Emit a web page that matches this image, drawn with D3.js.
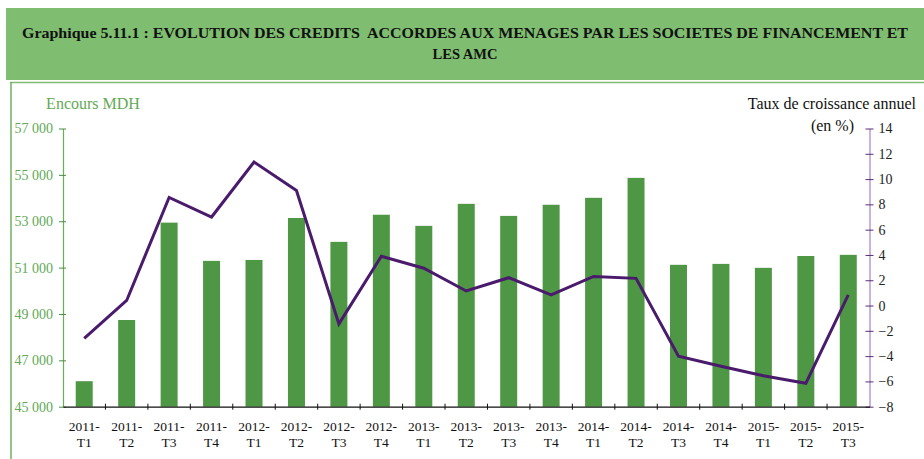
<!DOCTYPE html>
<html>
<head>
<meta charset="utf-8">
<script src="https://cdn.jsdelivr.net/npm/d3@7"></script>
<style>
  html, body { margin: 0; padding: 0; background: #fff; }
  svg { display: block; }
</style>
</head>
<body>
<svg id="chart" width="924" height="459"></svg>
<script>
// Quarterly periods
const periods = ["2011-T1","2011-T2","2011-T3","2011-T4",
                 "2012-T1","2012-T2","2012-T3","2012-T4",
                 "2013-T1","2013-T2","2013-T3","2013-T4",
                 "2014-T1","2014-T2","2014-T3","2014-T4",
                 "2015-T1","2015-T2","2015-T3"];
// Outstanding credit (MDH)
const encours = [46100, 48740, 52940, 51290,
                 51330, 53140, 52110, 53280,
                 52800, 53750, 53230, 53710,
                 54010, 54870, 51120, 51160,
                 50990, 51500, 51550];
// Annual growth rate (%)
const croissance = [-2.6, 0.4, 8.55, 7.0,
                    11.35, 9.1, -1.45, 3.9,
                    2.95, 1.15, 2.2, 0.85,
                    2.3, 2.15, -4.0, -4.8,
                    -5.55, -6.15, 0.85];
const leftTicks = [45000, 47000, 49000, 51000, 53000, 55000, 57000];
const rightTicks = [-8, -6, -4, -2, 0, 2, 4, 6, 8, 10, 12, 14];

const titleLines = ["Graphique 5.11.1 : EVOLUTION DES CREDITS  ACCORDES AUX MENAGES PAR LES SOCIETES DE FINANCEMENT ET",
                    "LES AMC"];

const SERIF = "'Liberation Serif', 'DejaVu Serif', 'Times New Roman', serif";

const svg = d3.select("#chart");
const W = 924, H = 459;

// Header band
svg.append("rect").attr("x", 6).attr("y", 8).attr("width", W - 6).attr("height", 72)
  .attr("fill", "#7fbd70");
const tl = svg.append("g");
titleLines.forEach((t, i) => {
  const el = tl.append("text")
    .attr("x", 465).attr("y", 38 + i * 21)
    .attr("text-anchor", "middle")
    .style("font-family", SERIF)
    .style("font-size", "14.5px").style("font-weight", "bold")
    .style("white-space", "pre")
    .attr("fill", "#111")
    .text(t);
  if (i === 0) el.attr("textLength", 886).attr("lengthAdjust", "spacingAndGlyphs");
});

// Frame around the chart area
svg.append("line").attr("x1", 10).attr("x2", W).attr("y1", 82.5).attr("y2", 82.5)
  .attr("stroke", "#7fbd70").attr("stroke-width", 1.5);
svg.append("line").attr("x1", 11).attr("x2", 11).attr("y1", 82).attr("y2", H)
  .attr("stroke", "#6fb062").attr("stroke-width", 1.5);

// Plot geometry
const x0 = 63, x1 = 869.5, yTop = 128.5, yBot = 406.7;

const x = d3.scaleBand().domain(periods).range([x0, x1]).paddingInner(0).paddingOuter(0);
const yL = d3.scaleLinear().domain([45000, 57000]).range([yBot, yTop]);
const yR = d3.scaleLinear().domain([-8, 14]).range([yBot, yTop]);

const barW = x.bandwidth() * 0.4;

// Bars
svg.append("g").selectAll("rect").data(periods).join("rect")
  .attr("x", d => x(d) + (x.bandwidth() - barW) / 2)
  .attr("width", barW)
  .attr("y", (d, i) => yL(encours[i]))
  .attr("height", (d, i) => yBot - yL(encours[i]))
  .attr("fill", "#4e9744");

// Left axis
const fmt = v => d3.format(",")(v).replace(",", "\u00a0");
const gL = svg.append("g").attr("transform", `translate(${x0},0)`)
  .call(d3.axisLeft(yL).tickValues(leftTicks).tickFormat(fmt).tickSizeInner(4).tickSizeOuter(0).tickPadding(6));
gL.select(".domain").attr("stroke", "#6aad5d").attr("stroke-width", 1.2);
gL.selectAll(".tick line").attr("stroke", "#4b8e3f").attr("x2", 3).attr("x1", -4);
gL.selectAll(".tick text").attr("fill", "#62a955").attr("x", -10)
  .style("font-family", SERIF).style("font-size", "14px");

// Right axis
const gR = svg.append("g").attr("transform", `translate(${x1},0)`)
  .call(d3.axisRight(yR).tickValues(rightTicks).tickSizeInner(4).tickSizeOuter(0).tickPadding(6));
gR.select(".domain").attr("stroke", "#a684c2").attr("stroke-width", 1.2);
gR.selectAll(".tick line").attr("stroke", "#5a2c7a").attr("x1", -4).attr("x2", 4);
gR.selectAll(".tick text").attr("fill", "#222").attr("x", 9)
  .style("font-family", SERIF).style("font-size", "14px");

// Category axis
const gX = svg.append("g").attr("transform", `translate(0,${yBot})`)
  .call(d3.axisBottom(x).tickSize(0).tickFormat(""));
gX.select(".domain").attr("stroke", "#111").attr("stroke-width", 1.2);
// boundary ticks between categories
gX.selectAll(".sep").data(periods.slice(1)).join("line")
  .attr("class", "sep")
  .attr("x1", d => x(d)).attr("x2", d => x(d))
  .attr("y1", -3).attr("y2", 3).attr("stroke", "#111");
// two-line labels
const lab = gX.selectAll(".lab").data(periods).join("text")
  .attr("class", "lab")
  .attr("text-anchor", "middle")
  .attr("fill", "#111")
  .style("font-family", SERIF).style("font-size", "13.5px")
  .attr("transform", d => `translate(${x(d) + x.bandwidth() / 2},0)`);
lab.append("tspan").attr("x", 0).attr("y", 24).text(d => d.split("-")[0] + "-");
lab.append("tspan").attr("x", 0).attr("y", 40).text(d => d.split("-")[1]);

// Growth rate line
const line = d3.line()
  .x((d, i) => x(periods[i]) + x.bandwidth() / 2)
  .y(d => yR(d));
svg.append("path").datum(croissance)
  .attr("d", line)
  .attr("fill", "none")
  .attr("stroke", "#4a1a6c")
  .attr("stroke-width", 3)
  .attr("stroke-linejoin", "miter");

// Axis titles
svg.append("text").attr("x", 93).attr("y", 109).attr("text-anchor", "middle")
  .style("font-family", SERIF).style("font-size", "16px")
  .attr("fill", "#62a955").text("Encours MDH");
svg.append("text").attr("x", 916).attr("y", 109).attr("text-anchor", "end")
  .style("font-family", SERIF).style("font-size", "16px")
  .attr("fill", "#111").text("Taux de croissance annuel");
svg.append("text").attr("x", 854).attr("y", 131).attr("text-anchor", "end")
  .style("font-family", SERIF).style("font-size", "16px")
  .attr("fill", "#111").text("(en %)");
</script>
</body>
</html>
